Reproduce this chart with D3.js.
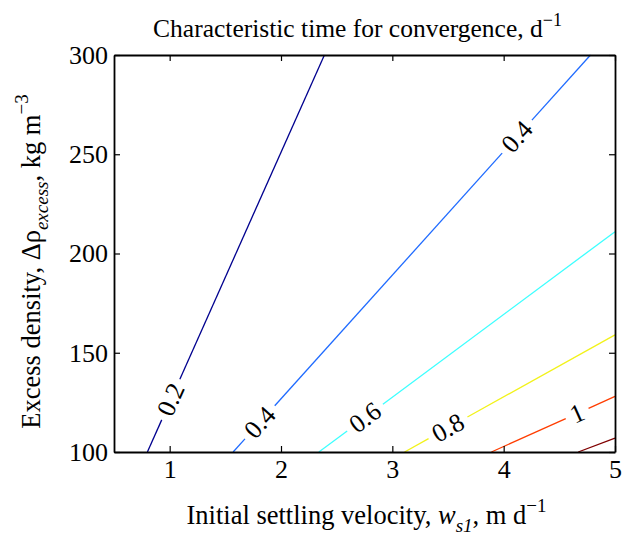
<!DOCTYPE html>
<html>
<head>
<meta charset="utf-8">
<script src="https://cdn.jsdelivr.net/npm/d3@7"></script>
<style>
  html, body { margin: 0; padding: 0; background: #fff; }
  svg { display: block; }
  text { font-family: "Liberation Serif", "DejaVu Serif", serif; fill: #000; }
</style>
</head>
<body>
<svg id="chart" width="627" height="535"></svg>
<script>
// Contour levels of the characteristic time (d^-1)
const levels = [0.2, 0.4, 0.6, 0.8, 1.0, 1.2];
// Each contour is close to a straight line: [w_s1, Δρ] at its two ends
const contourStart = [[0.80, 100], [1.57, 100], [2.34, 100], [3.11, 100], [3.89, 100], [4.67, 100]];
const contourEnd   = [[2.39, 300], [4.78, 300], [5.00, 211], [5.00, 159], [5.00, 128], [5.00, 107]];
// Inline labels: contour level index and the w_s1 where the label sits
const labelLevel = [0, 1, 1, 2, 3, 4];
const labelW     = [1.01, 1.81, 4.12, 2.755, 3.50, 4.66];
const labelText  = ["0.2", "0.4", "0.4", "0.6", "0.8", "1"];
// Axis ticks
const xTicks = [1, 2, 3, 4, 5];
const yTicks = [100, 150, 200, 250, 300];

// jet colours for each level
const levelColors = ["#00008f", "#1f6bff", "#3dffff", "#f2f21a", "#ff3d00", "#800000"];

const svg = d3.select("#chart");
const margin = { left: 114, right: 12, top: 55, bottom: 83 };
const W = 627, H = 535;
const x = d3.scaleLinear().domain([0.5, 5]).range([margin.left, W - margin.right]);
const y = d3.scaleLinear().domain([100, 300]).range([H - margin.bottom, margin.top]);

const fontSize = 26;
const serif = "Liberation Serif, DejaVu Serif, serif";

// label geometry along each contour
const labels = labelLevel.map((li, i) => {
  const s = contourStart[li], e = contourEnd[li];
  const t = (labelW[i] - s[0]) / (e[0] - s[0]);
  const rho = s[1] + t * (e[1] - s[1]);
  const px = x(labelW[i]), py = y(rho);
  const ang = Math.atan2(y(e[1]) - y(s[1]), x(e[0]) - x(s[0]));
  return { li, px, py, ang, text: labelText[i] };
});

// measure label widths
const measure = svg.append("text").attr("font-size", fontSize).attr("font-family", serif).attr("visibility", "hidden");
labels.forEach(l => { measure.text(l.text); l.len = measure.node().getComputedTextLength(); });
measure.remove();

// contour lines, broken around their labels
const gLines = svg.append("g");
levels.forEach((lev, li) => {
  const s = contourStart[li], e = contourEnd[li];
  const x0 = x(s[0]), y0 = y(s[1]), x1 = x(e[0]), y1 = y(e[1]);
  const L = Math.hypot(x1 - x0, y1 - y0);
  const gaps = labels.filter(l => l.li === li).map(l => {
    const d = Math.hypot(l.px - x0, l.py - y0);
    const half = l.len / 2 + 6;
    return [d - half, d + half];
  }).sort((a, b) => a[0] - b[0]);
  let cur = 0;
  const segs = [];
  gaps.forEach(g => { segs.push([cur, g[0]]); cur = g[1]; });
  segs.push([cur, L]);
  segs.forEach(sg => {
    if (sg[1] <= sg[0]) return;
    const a = sg[0] / L, b = sg[1] / L;
    gLines.append("line")
      .attr("x1", x0 + a * (x1 - x0)).attr("y1", y0 + a * (y1 - y0))
      .attr("x2", x0 + b * (x1 - x0)).attr("y2", y0 + b * (y1 - y0))
      .attr("stroke", levelColors[li]).attr("stroke-width", 1.3);
  });
});

// contour labels
svg.append("g").selectAll("text").data(labels).join("text")
  .attr("transform", d => `translate(${d.px},${d.py}) rotate(${d.ang * 180 / Math.PI})`)
  .attr("text-anchor", "middle")
  .attr("dy", "0.33em")
  .attr("font-size", fontSize)
  .attr("font-family", serif)
  .text(d => d.text);

// axes with inward ticks on all four sides
const tickLen = 6;
function styleAxis(g) {
  g.attr("font-family", serif).attr("font-size", fontSize);
  g.selectAll("path").attr("stroke", "#000").attr("stroke-width", 1.8);
  g.selectAll("line").attr("stroke", "#000").attr("stroke-width", 1.2);
  g.selectAll("text").attr("fill", "#000");
}
svg.append("g").attr("transform", `translate(0,${y(100)})`)
  .call(d3.axisBottom(x).tickValues(xTicks).tickFormat(d3.format("d")).tickSizeInner(-tickLen).tickSizeOuter(0).tickPadding(8))
  .call(styleAxis);
svg.append("g").attr("transform", `translate(0,${y(300)})`)
  .call(d3.axisTop(x).tickValues(xTicks).tickFormat("").tickSizeInner(-tickLen).tickSizeOuter(0))
  .call(styleAxis);
svg.append("g").attr("transform", `translate(${x(0.5)},0)`)
  .call(d3.axisLeft(y).tickValues(yTicks).tickFormat(d3.format("d")).tickSizeInner(-tickLen).tickSizeOuter(0).tickPadding(6))
  .call(styleAxis);
svg.append("g").attr("transform", `translate(${x(5)},0)`)
  .call(d3.axisRight(y).tickValues(yTicks).tickFormat("").tickSizeInner(-tickLen).tickSizeOuter(0))
  .call(styleAxis);

// title
const title = svg.append("text")
  .attr("x", (x(0.5) + x(5)) / 2 - 7).attr("y", 37)
  .attr("text-anchor", "middle").attr("font-size", 25.5);
title.append("tspan").text("Characteristic time for convergence, d");
title.append("tspan").attr("dy", -11).attr("font-size", 18).text("\u22121");

// x label
const xl = svg.append("text")
  .attr("x", (x(0.5) + x(5)) / 2 + 2).attr("y", 524)
  .attr("text-anchor", "middle").attr("font-size", 26.5);
xl.append("tspan").text("Initial settling velocity, ");
xl.append("tspan").attr("font-style", "italic").text("w");
xl.append("tspan").attr("font-style", "italic").attr("font-size", 19).attr("dy", 8).text("s1");
xl.append("tspan").attr("dy", -8).text(", m d");
xl.append("tspan").attr("font-size", 19).attr("dy", -12).text("\u22121");

// y label
const yl = svg.append("text")
  .attr("transform", `translate(40,${(y(100) + y(300)) / 2 + 8}) rotate(-90)`)
  .attr("text-anchor", "middle").attr("font-size", 26.5);
yl.append("tspan").text("Excess density, \u0394\u03c1");
yl.append("tspan").attr("font-style", "italic").attr("font-size", 19).attr("dy", 8).text("excess");
yl.append("tspan").attr("dy", -8).text(", kg m");
yl.append("tspan").attr("font-size", 19).attr("dy", -12).text("\u22123");
</script>
</body>
</html>
